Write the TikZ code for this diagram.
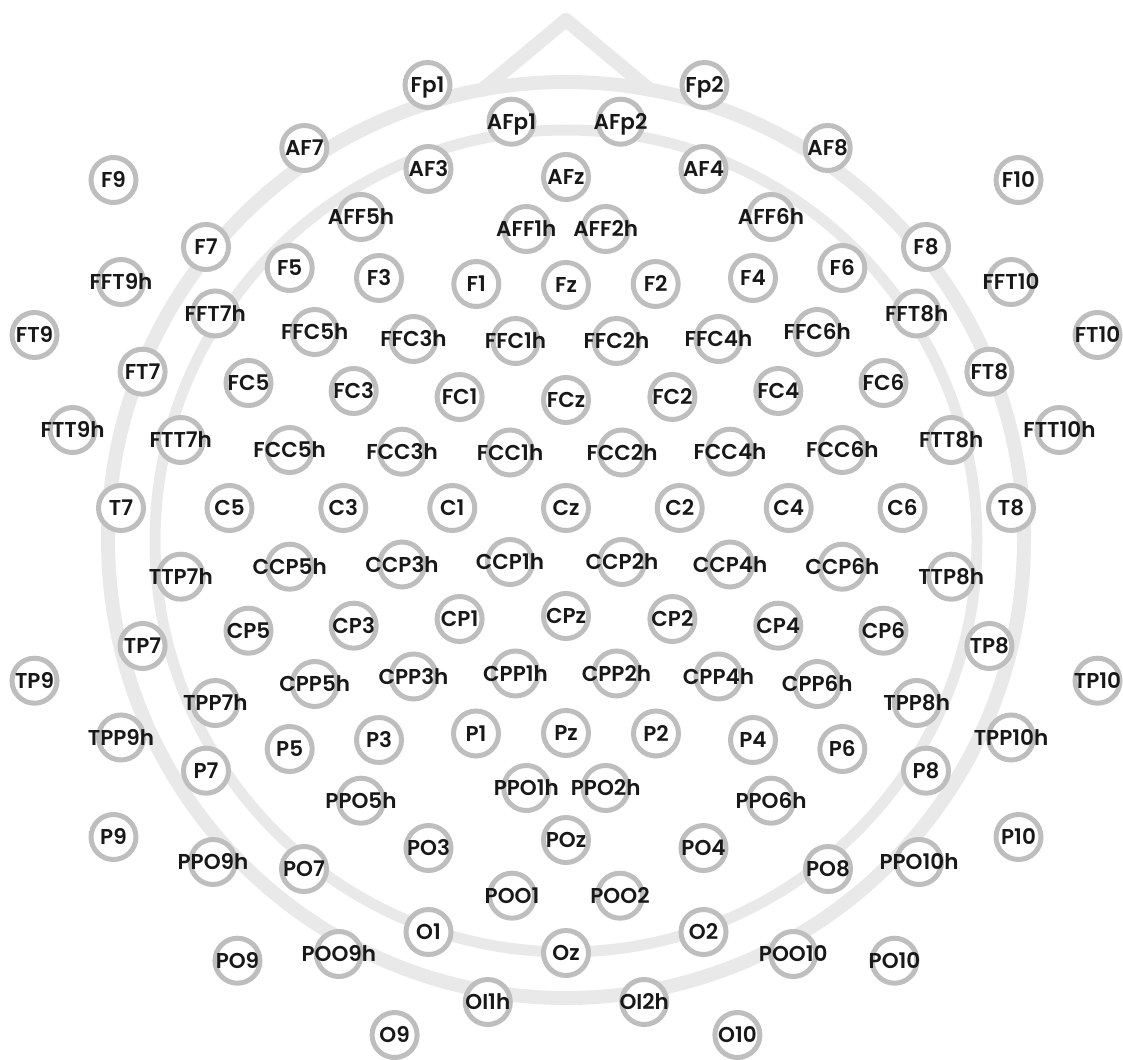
\documentclass[tikz,border=0pt]{standalone}
\usepackage{fontspec}
\setmainfont{Poppins}[UprightFont=* SemiBold]
\usetikzlibrary{positioning}
\definecolor{eegring}{RGB}{190, 190, 190}
\definecolor{eeghead}{RGB}{233, 233, 233}
\definecolor{eegtext}{RGB}{24, 24, 24}

\begin{document}
\begin{tikzpicture}[
  x=1pt, y=-1pt,
  elec/.style={circle, draw=eegring, fill=white, line width=5pt,
               minimum size=45pt, inner sep=0pt},
  elabel/.style={font=\fontsize{21.5}{21.5}\selectfont, text=eegtext,
               inner sep=0pt, text height=15pt, text depth=0pt},
  headline/.style={draw=eeghead, line join=round, line cap=round},
]
  \useasboundingbox (0,0) rectangle (1123,1059);

  % Head and nose
  \draw[headline, line width=14pt] (566,540) circle[radius=458];
  \draw[headline, line width=11pt] (566,541) circle[radius=411];
  \draw[headline, line width=14pt] (482,90) -- (566,20) -- (650,90);

  % Midline electrodes
  \foreach \n/\y in {AFz/177, Fz/285, FCz/400, Cz/508, CPz/616,
                     Pz/733, POz/840, Oz/953}
    \node[elec, label={[elabel]center:\n}] (\n) at (566,\y) {};

  % Left / right pairs (offset from midline, row)
  \foreach \l/\r/\dx/\y in {
      Fp1/Fp2/138.5/85, AFp1/AFp2/54.5/121.7, AF7/AF8/261.7/148,
      AF3/AF4/137.5/169, F9/F10/452.5/180, AFF5h/AFF6h/205/217,
      AFF1h/AFF2h/39.7/229, F7/F8/360/247, F5/F6/276.3/268,
      F3/F4/187/278, F1/F2/89.7/284, FFT9h/FFT10/445/282,
      FFT7h/FFT8h/350.7/313.5, FFC5h/FFC6h/251.3/332, FFC3h/FFC4h/152.5/339,
      FFC1h/FFC2h/50.5/341, FT9/FT10/531.5/335, FT7/FT8/423.4/371.7,
      FC5/FC6/317.5/383, FC3/FC4/212.3/391, FC1/FC2/106.4/397,
      FTT9h/FTT10h/493.4/430, FTT7h/FTT8h/385.2/440, FCC5h/FCC6h/276.3/450,
      FCC3h/FCC4h/164/451.7, FCC1h/FCC2h/56/452.5,
      T7/T8/445/508, C5/C6/336.5/508, C3/C4/222.7/508, C1/C2/113.7/508,
      TTP7h/TTP8h/385.2/576.7, CCP5h/CCP6h/276.3/566.7,
      CCP3h/CCP4h/164/564.5, CCP1h/CCP2h/56/562,
      TP7/TP8/423.4/646, CP5/CP6/317.5/630.7, CP3/CP4/212.3/625.7,
      CP1/CP2/106.4/619, TP9/TP10/531.5/680.7,
      CPP5h/CPP6h/251.3/684, CPP3h/CPP4h/152.5/676.5, CPP1h/CPP2h/50.5/673.5,
      TPP7h/TPP8h/350.7/703, TPP9h/TPP10h/445/737.5,
      P5/P6/276.3/749, P3/P4/187/740, P1/P2/90/733.5, P7/P8/360/770.7,
      PPO5h/PPO6h/205/800.7, PPO1h/PPO2h/39.7/788, P9/P10/452.5/837,
      PPO9h/PPO10h/353/862, PO7/PO8/262/869, PO3/PO4/137.5/848,
      POO1/POO2/54/895.7, O1/O2/137.5/932, PO9/PO10/328.5/960.7,
      POO9h/POO10/227.2/954, OI1h/OI2h/78.2/1002, O9/O10/171.4/1035}
  {
    \node[elec, label={[elabel]center:\l}] (\l) at ({566-\dx},\y) {};
    \node[elec, label={[elabel]center:\r}] (\r) at ({566+\dx},\y) {};
  }
\end{tikzpicture}
\end{document}
